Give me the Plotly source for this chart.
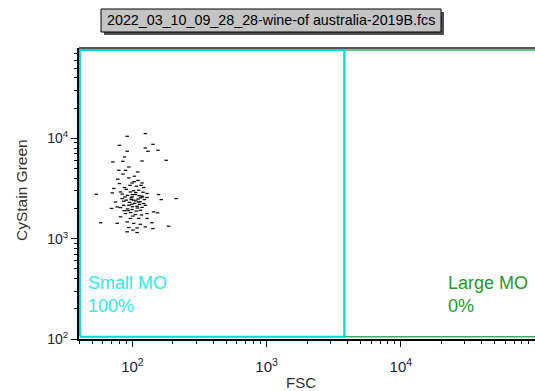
import math
import plotly.graph_objects as go

# ---- data ----
fsc = [91.4, 124.8, 80.1, 142.2, 124.8, 91.4, 155, 87.3, 130.6, 71.5, 84.8, 118.0, 178.6,
       79.2, 94.0, 88.8, 109.4, 103.5, 77.8, 94.0, 80.1, 99.5, 118.0, 72.7, 87.3, 107.1,
       121.3, 53.8, 70.8, 81.5, 96.6, 111.3, 128.5, 156.6, 83.9, 99.5, 118.0, 128.5, 211.8,
       164, 74.8, 86.2, 102.3, 111.3, 121.3, 94.0, 108.4, 81.5, 69.9, 77.1, 99.5, 114.6,
       143.9, 88.8, 105.2, 128.5, 153.8, 81.5, 96.6, 111.3, 128.5, 58.0, 77.1, 91.4, 102.3,
       114.6, 139.9, 185.8, 94.0, 108.4, 124.8, 142.2, 91.4, 108.4, 101,
       92, 105, 115, 98, 110, 88, 120, 95, 104, 113, 100, 92, 118, 107, 97, 86, 123, 102,
       112, 90, 116, 106, 84, 99, 109, 125, 93, 117, 101, 87, 119, 96, 103, 110, 85, 98,
       106, 114, 90, 100]
green = [10470, 11140, 8510, 8710, 8000, 7430, 7600, 6520, 7430, 5810, 5900, 5940, 6040,
         4800, 5180, 4800, 4620, 4190, 3910, 4030, 3540, 3590, 3590, 3160, 3230, 3330,
         3230, 2770, 2860, 2920, 2920, 3040, 2820, 2750, 2510, 2610, 2650, 2570, 2510,
         2450, 2320, 2360, 2420, 2320, 2240, 2150, 2100, 2040, 2000, 2070, 1950, 1920,
         1850, 1780, 1740, 1780, 1810, 1650, 1590, 1590, 1590, 1440, 1420, 1470, 1420,
         1390, 1440, 1330, 1290, 1280, 1310, 1260, 1170, 1150, 1220,
         2700, 2750, 2550, 2450, 2480, 2600, 2900, 2300, 2250, 2200, 2080, 1980, 2050, 1880,
         1820, 2150, 2450, 3000, 2680, 3100, 3400, 2880, 2780, 2200, 2020, 2150, 1900, 1720,
         1680, 1900, 2600, 3400, 3700, 3800, 4400, 2550, 2380, 2340, 2420, 2750]

x_tick_vals = [100, 1000, 10000]
x_tick_text = ["10<sup>2</sup>", "10<sup>3</sup>", "10<sup>4</sup>"]
y_tick_vals = [100, 1000, 10000]
y_tick_text = ["10<sup>2</sup>", "10<sup>3</sup>", "10<sup>4</sup>"]

x_min, x_max = 40, 100000
y_min, y_max = 100, 79433
gate_split = 3800          # FSC boundary between the two gates
gate_x_lo, gate_x_hi = 40.6, 400000
gate_y_lo, gate_y_hi = 105, 76000
gate_names = ["Small MO", "Large MO"]
gate_pcts = ["100%", "0%"]
title_text = "2022_03_10_09_28_28-wine-of australia-2019B.fcs"

W, H = 535, 391
ML, MR, MT, MB = 79, 0, 48, 52
PW, PH = W - ML - MR, H - MT - MB
FONT = "Liberation Sans, Arial, sans-serif"
CYAN_LINE = "#00D8D8"
CYAN_TEXT = "#2CEBEB"
GREEN_LINE = "#40A860"
GREEN_TEXT = "#1F9A2A"


def px_x(p):
    return (p - ML) / PW


def px_y(p):
    return (H - MB - p) / PH


L = math.log10
fig = go.Figure()

# gates drawn as line traces in data space
fig.add_trace(go.Scatter(
    x=[gate_split, gate_x_hi, gate_x_hi, gate_split, gate_split],
    y=[gate_y_lo, gate_y_lo, gate_y_hi, gate_y_hi, gate_y_lo],
    mode="lines", line=dict(color=GREEN_LINE, width=1.5),
    hoverinfo="skip", showlegend=False))
fig.add_trace(go.Scatter(
    x=[gate_x_lo, gate_split, gate_split, gate_x_lo, gate_x_lo],
    y=[gate_y_lo, gate_y_lo, gate_y_hi, gate_y_hi, gate_y_lo],
    mode="lines", line=dict(color=CYAN_LINE, width=2),
    hoverinfo="skip", showlegend=False))

fig.add_trace(go.Scatter(
    x=fsc, y=green, mode="markers",
    marker=dict(symbol="line-ew", size=2.5, color="#111111",
                line=dict(color="#111111", width=1.3)),
    hoverinfo="skip", showlegend=False))

# top frame line
fig.add_shape(type="line", xref="paper", yref="paper", x0=0, x1=1, y0=1, y1=1,
              line=dict(color="#555555", width=2))

# gate labels
fig.add_annotation(x=px_x(86), y=px_y(294), xref="paper", yref="paper",
                   text=gate_names[0] + "<br>" + gate_pcts[0], showarrow=False,
                   xanchor="left", yanchor="middle", align="left",
                   font=dict(family=FONT, size=18, color=CYAN_TEXT))
fig.add_annotation(x=px_x(446), y=px_y(294), xref="paper", yref="paper",
                   text=gate_names[1] + "<br>" + gate_pcts[1], showarrow=False,
                   xanchor="left", yanchor="middle", align="left",
                   font=dict(family=FONT, size=18, color=GREEN_TEXT))

# title box with shadow
fig.add_shape(type="rect", xref="paper", yref="paper",
              x0=px_x(104), x1=px_x(444), y0=px_y(35), y1=px_y(12),
              fillcolor="#505050", line=dict(width=0), layer="above")
fig.add_shape(type="rect", xref="paper", yref="paper",
              x0=px_x(101), x1=px_x(441), y0=px_y(32), y1=px_y(9),
              fillcolor="#C4C4C4", line=dict(color="black", width=1), layer="above")
fig.add_annotation(x=px_x(271), y=px_y(20.5), xref="paper", yref="paper",
                   text=title_text, showarrow=False, xanchor="center", yanchor="middle",
                   font=dict(family=FONT, size=14.3, color="black"))

# axis titles
fig.add_annotation(x=px_x(301), y=px_y(382), xref="paper", yref="paper",
                   text="FSC", showarrow=False, xanchor="center", yanchor="middle",
                   font=dict(family=FONT, size=15, color="#303030"))
fig.add_annotation(x=px_x(21), y=px_y(190), xref="paper", yref="paper",
                   text="CyStain Green", showarrow=False, textangle=-90,
                   xanchor="center", yanchor="middle",
                   font=dict(family=FONT, size=15.5, color="#303030"))

axis_common = dict(
    type="log", showgrid=False, zeroline=False, showline=True, linecolor="black",
    linewidth=2, ticks="outside", ticklen=6, tickcolor="black", tickwidth=1,
    tickmode="array",
    minor=dict(ticks="outside", ticklen=3, tickcolor="black", dtick="D1"),
)
fig.update_xaxes(range=[L(x_min), L(x_max)], tickvals=x_tick_vals, ticktext=x_tick_text,
                 tickfont=dict(family=FONT, size=15, color="#1a1a3a"),
                 ticklabelstandoff=7, **axis_common)
fig.update_yaxes(range=[L(y_min), L(y_max)], tickvals=y_tick_vals, ticktext=y_tick_text,
                 tickfont=dict(family=FONT, size=14, color="#1a1a3a"),
                 **axis_common)

fig.update_layout(width=W, height=H, margin=dict(l=ML, r=MR, t=MT, b=MB),
                  paper_bgcolor="white", plot_bgcolor="white", showlegend=False)
fig.write_html("out.html")
